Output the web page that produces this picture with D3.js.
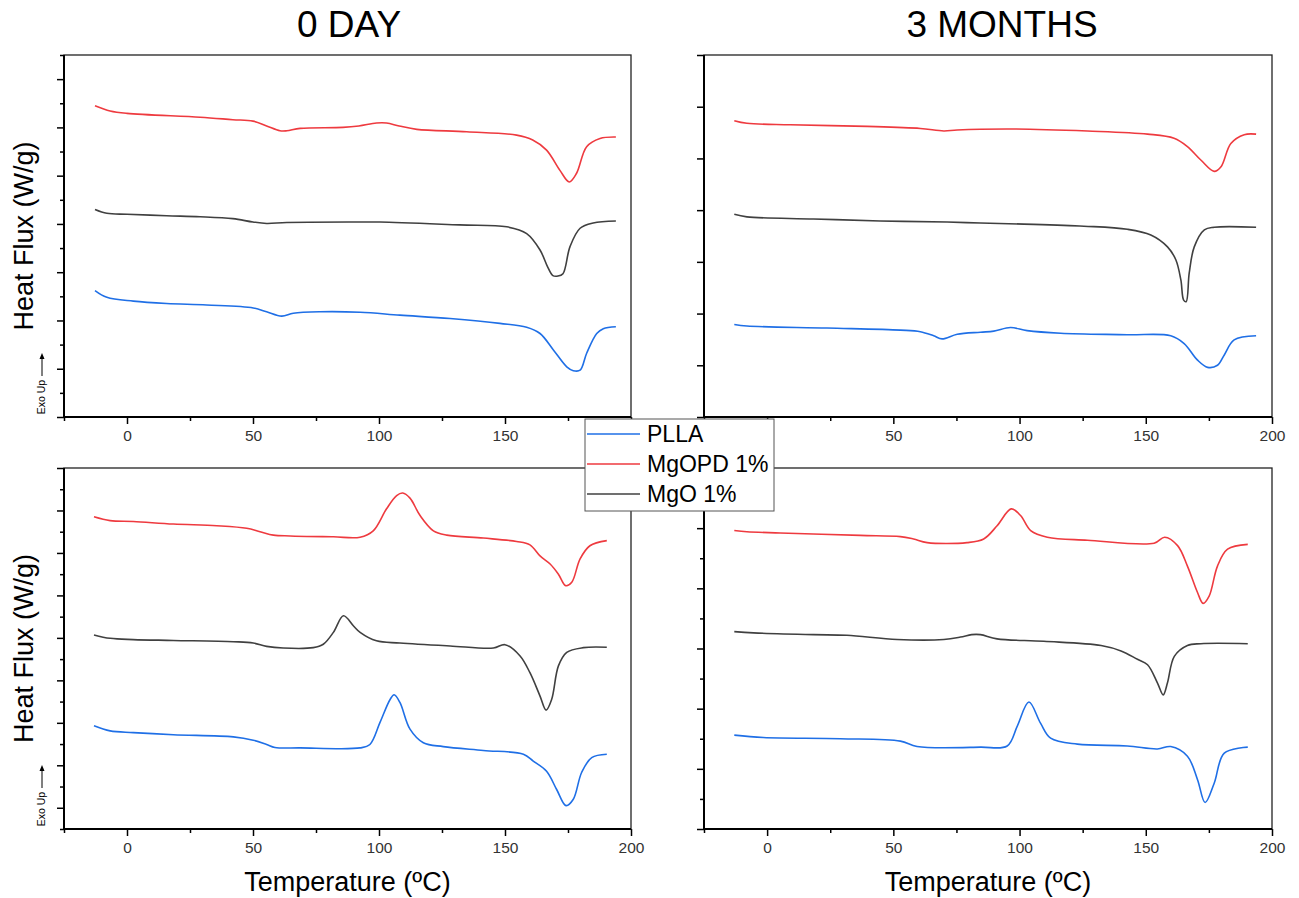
<!DOCTYPE html>
<html>
<head>
<meta charset="utf-8">
<script src="https://cdn.jsdelivr.net/npm/d3@7"></script>
<style>
  body { margin: 0; background: #fff; }
  svg { font-family: "Liberation Sans", Arial, sans-serif; }
</style>
</head>
<body>
<svg id="chart" width="1299" height="898"></svg>
<script>
// series + colours
const seriesNames = ["PLLA", "MgOPD 1%", "MgO 1%"];
const seriesColors = ["#1f6fe6", "#ee3a3f", "#404040"];
const panelTitles = ["0 DAY", "3 MONTHS"];
const xTicks = [0, 50, 100, 150, 200];

// [temperature (ºC), heat flux (stacked, arb. units)]
// 0 day, top
const day0TopPLLA = [[-12.7,2.62],[-8,2.48],[2.5,2.40],[15.7,2.35],[31.6,2.32],[50.1,2.26],[55.4,2.18],[61.4,2.09],[66,2.15],[76.6,2.18],[92.5,2.17],[108.3,2.11],[128.2,2.04],[148,1.94],[158.6,1.86],[163.9,1.73],[169.2,1.39],[174.5,1.04],[177.1,0.96],[179.8,0.97],[182.4,1.32],[186.4,1.73],[189,1.83],[194,1.87]];
const day0TopMgOPD = [[-12.7,6.45],[-6.7,6.34],[0,6.29],[29,6.21],[42,6.16],[50,6.13],[55.4,6.03],[60.7,5.93],[63.4,5.93],[68.7,5.98],[85.7,6.00],[92,6.03],[99,6.09],[103,6.09],[108,6.03],[115,5.96],[134.8,5.91],[154.6,5.84],[161,5.74],[166.5,5.53],[171.8,5.11],[175.5,4.87],[178.4,5.05],[182.4,5.60],[187.7,5.77],[194,5.80]];
const day0TopMgO = [[-12.7,4.30],[-8,4.22],[0,4.20],[15.7,4.17],[29,4.15],[42,4.11],[50,4.04],[55.4,4.01],[63.4,4.03],[92.5,4.04],[100.4,4.04],[132,3.98],[150.7,3.94],[158.6,3.80],[163.9,3.46],[167,3.10],[169,2.93],[171,2.92],[173,2.97],[175.8,3.53],[179.8,3.91],[185,4.02],[194,4.06]];

// 3 months, top
const m3TopPLLA = [[-13,1.79],[-8,1.76],[23.7,1.72],[52.8,1.68],[60.7,1.65],[66,1.57],[69.3,1.51],[75.3,1.60],[84.5,1.64],[89.8,1.66],[96.4,1.73],[103,1.67],[116.3,1.62],[142.7,1.59],[159.9,1.57],[165.2,1.42],[170.5,1.10],[174.5,0.96],[178.4,1.00],[181.1,1.20],[185,1.49],[193.7,1.57]];
const m3TopMgOPD = [[-13,5.73],[-8,5.68],[9.1,5.65],[39.6,5.62],[60.7,5.58],[70,5.53],[75.3,5.55],[97.7,5.57],[126.9,5.53],[150.7,5.47],[161.2,5.39],[166.5,5.23],[171.8,4.97],[177.1,4.75],[179.8,4.84],[183.7,5.29],[189,5.46],[193.7,5.47]];
const m3TopMgO = [[-13,3.92],[-8,3.87],[18.4,3.83],[44.8,3.79],[71.3,3.77],[84.5,3.75],[101.7,3.73],[125.5,3.69],[142.7,3.63],[152,3.52],[158.6,3.29],[161.9,3.04],[163.9,2.65],[165,2.26],[166,2.23],[167.2,2.78],[169.2,3.29],[173.2,3.62],[177.1,3.67],[193.7,3.67]];

// 0 day, bottom
const day0BottomPLLA = [[-13.1,1.93],[-6.7,1.81],[2.5,1.77],[18.4,1.72],[42.2,1.67],[50.1,1.59],[55.4,1.49],[58.7,1.42],[68.7,1.41],[92.5,1.41],[96.4,1.49],[100.4,2.01],[104.4,2.55],[106,2.66],[108.3,2.48],[112.3,1.85],[117.6,1.53],[125.5,1.44],[141.4,1.35],[157.3,1.26],[161.2,1.10],[166.5,0.86],[170.5,0.43],[174.2,0.05],[177.1,0.20],[180.4,0.83],[184.4,1.18],[190.4,1.26]];
const day0BottomMgOPD = [[-13.1,6.85],[-6.7,6.76],[2.5,6.74],[18.4,6.68],[35.6,6.64],[47.5,6.58],[52.8,6.50],[58.1,6.42],[64.7,6.40],[81.9,6.38],[92.5,6.37],[97.7,6.52],[103,7.04],[107,7.35],[109.4,7.41],[112.3,7.29],[116.3,6.88],[121.6,6.52],[126.9,6.42],[141.4,6.35],[154.6,6.27],[159.9,6.19],[163.9,5.93],[167.9,5.74],[171.2,5.50],[174.1,5.23],[176.5,5.31],[179.8,5.86],[183.7,6.17],[190.4,6.29]];
const day0BottomMgO = [[-13.1,4.07],[-6.7,3.99],[2.5,3.96],[18.4,3.94],[42.2,3.91],[50.1,3.88],[55.4,3.80],[62,3.76],[73.9,3.77],[77.9,3.85],[81.9,4.13],[85.9,4.52],[89.9,4.28],[92.5,4.13],[99,3.93],[108.3,3.88],[128.2,3.81],[145.4,3.76],[150,3.84],[155.9,3.58],[159.9,3.18],[163.9,2.63],[166.3,2.30],[168.5,2.55],[171.2,3.34],[174.5,3.66],[181.1,3.77],[190.4,3.78]];

// 3 months, bottom
const m3BottomPLLA = [[-13,1.56],[-1.5,1.52],[29,1.50],[52.8,1.46],[59.4,1.37],[84.5,1.36],[95.1,1.38],[99.1,1.71],[103.7,2.11],[108.3,1.76],[112.3,1.51],[122.9,1.41],[142.7,1.38],[154.6,1.33],[159.9,1.37],[166.5,1.21],[170.5,0.82],[173.5,0.44],[177.1,0.76],[181.1,1.26],[190.4,1.36]];
const m3BottomMgOPD = [[-13,4.96],[-8,4.94],[5.2,4.92],[36.9,4.88],[52.8,4.86],[58,4.82],[63.4,4.76],[79.2,4.76],[85.8,4.82],[91.1,5.04],[96.7,5.32],[100.4,5.21],[104.4,4.96],[111,4.85],[126.9,4.80],[153.3,4.75],[157.5,4.85],[162.6,4.71],[166.5,4.37],[170.5,3.93],[172.7,3.75],[175.1,3.87],[178.4,4.37],[182.4,4.65],[190.4,4.73]];
const m3BottomMgO = [[-13,3.28],[-5.4,3.26],[18.4,3.23],[31.6,3.22],[51.5,3.15],[70,3.15],[76.6,3.19],[81,3.23],[84.5,3.23],[91.1,3.16],[109.6,3.12],[132.3,3.05],[140.2,2.96],[146.7,2.82],[150.7,2.73],[154.6,2.43],[156.9,2.23],[158.6,2.43],[161.3,2.87],[166.5,3.05],[171.8,3.08],[190.4,3.08]];

const svg = d3.select("#chart");

// layout for the 4 panels
const panels = [
  { left: 64,  right: 631,  top: 55,  bottom: 417, yDomain: [0, 7.5], yStep: 0.5, majorEvery: 1, series: [day0TopPLLA, day0TopMgOPD, day0TopMgO], yLabel: true },
  { left: 704, right: 1272, top: 55,  bottom: 417, yDomain: [0, 7],   yStep: 1,   majorEvery: 1, series: [m3TopPLLA, m3TopMgOPD, m3TopMgO], yLabel: false },
  { left: 64,  right: 631,  top: 468, bottom: 829, yDomain: [-0.5, 8], yStep: 0.5, majorEvery: 1, series: [day0BottomPLLA, day0BottomMgOPD, day0BottomMgO], yLabel: true, xTitle: true },
  { left: 704, right: 1272, top: 468, bottom: 829, yDomain: [0, 6],   yStep: 0.5, majorEvery: 1, series: [m3BottomPLLA, m3BottomMgOPD, m3BottomMgO], yLabel: false, xTitle: true }
];

const isMajor = (v, every) => Math.abs(v / every - Math.round(v / every)) < 1e-6;

panels.forEach(p => {
  const x = d3.scaleLinear().domain([-25, 200]).range([p.left, p.right]);
  const y = d3.scaleLinear().domain(p.yDomain).range([p.bottom, p.top]);
  const g = svg.append("g");

  // y ticks
  const yVals = d3.range(p.yDomain[0], p.yDomain[1] + 1e-6, p.yStep);
  g.append("g")
    .attr("transform", `translate(${p.left},0)`)
    .call(d3.axisLeft(y).tickValues(yVals.filter(v => !isMajor(v, p.majorEvery))).tickSize(4).tickFormat(""))
    .call(a => a.select(".domain").remove());
  g.append("g")
    .attr("transform", `translate(${p.left},0)`)
    .call(d3.axisLeft(y).tickValues(yVals.filter(v => isMajor(v, p.majorEvery))).tickSize(7).tickFormat(""))
    .call(a => a.select(".domain").remove());

  // x ticks
  g.append("g")
    .attr("transform", `translate(0,${p.bottom})`)
    .call(d3.axisBottom(x).tickValues([-25, 25, 75, 125, 175]).tickSize(4).tickFormat(""))
    .call(a => a.select(".domain").remove());
  g.append("g")
    .attr("transform", `translate(0,${p.bottom})`)
    .call(d3.axisBottom(x).tickValues(xTicks).tickSize(7).tickPadding(6).tickFormat(d3.format("d")))
    .call(a => a.select(".domain").remove())
    .selectAll("text")
    .attr("font-size", 15.5)
    .attr("font-family", "Liberation Sans, Arial, sans-serif")
    .attr("fill", "#333");

  g.selectAll(".tick line").attr("stroke", "#000").attr("stroke-width", 1.5);

  // frame
  g.append("rect")
    .attr("x", p.left).attr("y", p.top)
    .attr("width", p.right - p.left).attr("height", p.bottom - p.top)
    .attr("fill", "none").attr("stroke", "#222").attr("stroke-width", 1.3);
  g.append("path")
    .attr("d", `M${p.left},${p.top}V${p.bottom}H${p.right}`)
    .attr("fill", "none").attr("stroke", "#000").attr("stroke-width", 2);

  // curves
  const line = d3.line().x(d => x(d[0])).y(d => y(d[1])).curve(d3.curveCatmullRom.alpha(0.5));
  // draw MgO then MgOPD then PLLA like the original stacking
  [2, 1, 0].forEach(i => {
    g.append("path")
      .datum(p.series[i])
      .attr("d", line)
      .attr("fill", "none")
      .attr("stroke", seriesColors[i])
      .attr("stroke-width", 1.6)
      .attr("stroke-linejoin", "round");
  });

  const cy = (p.top + p.bottom) / 2;
  if (p.yLabel) {
    svg.append("text")
      .attr("transform", `translate(33,${cy}) rotate(-90)`)
      .attr("text-anchor", "middle")
      .attr("font-size", 27)
      .attr("fill", "#000")
      .text("Heat Flux (W/g)");

    // Exo Up marker
    const exoMid = p.bottom - 20;
    svg.append("text")
      .attr("transform", `translate(45,${exoMid}) rotate(-90)`)
      .attr("text-anchor", "middle")
      .attr("font-size", 10.5)
      .attr("fill", "#000")
      .text("Exo Up");
    const a0 = exoMid - 21, a1 = exoMid - 44;
    svg.append("line")
      .attr("x1", 42).attr("x2", 42).attr("y1", a0).attr("y2", a1 + 4)
      .attr("stroke", "#000").attr("stroke-width", 1);
    svg.append("path")
      .attr("d", `M42,${a1}L39.5,${a1 + 6}L44.5,${a1 + 6}Z`)
      .attr("fill", "#000");
  }

  if (p.xTitle) {
    svg.append("text")
      .attr("x", (p.left + p.right) / 2)
      .attr("y", 891)
      .attr("text-anchor", "middle")
      .attr("font-size", 27)
      .attr("fill", "#000")
      .text("Temperature (ºC)");
  }
});

// titles
svg.append("text")
  .attr("x", 349).attr("y", 37)
  .attr("text-anchor", "middle")
  .attr("font-size", 37)
  .text(panelTitles[0]);
svg.append("text")
  .attr("x", 1002).attr("y", 37)
  .attr("text-anchor", "middle")
  .attr("font-size", 37)
  .text(panelTitles[1]);

// legend, sits on top of the panel corners
const legend = svg.append("g").attr("transform", "translate(585,419)");
legend.append("rect")
  .attr("width", 189).attr("height", 92)
  .attr("fill", "#fff").attr("stroke", "#555").attr("stroke-width", 1);
seriesNames.forEach((name, i) => {
  const ly = 15 + i * 30;
  legend.append("line")
    .attr("x1", 2).attr("x2", 55).attr("y1", ly).attr("y2", ly)
    .attr("stroke", seriesColors[i]).attr("stroke-width", 1.6);
  legend.append("text")
    .attr("x", 62).attr("y", ly).attr("dy", "0.35em")
    .attr("font-size", 23)
    .attr("fill", "#000")
    .text(name);
});
</script>
</body>
</html>
